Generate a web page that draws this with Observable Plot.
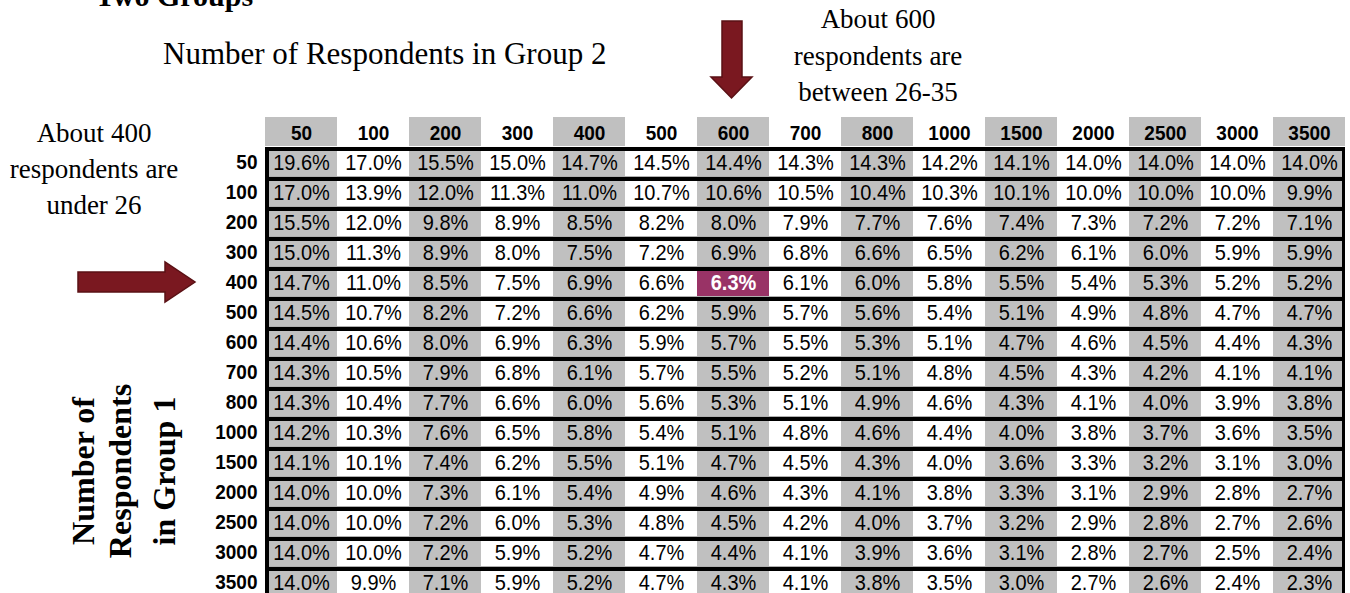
<!DOCTYPE html>
<html>
<head>
<meta charset="utf-8">
<script src="https://cdn.jsdelivr.net/npm/d3@7"></script>
<script src="https://cdn.jsdelivr.net/npm/@observablehq/plot@0.6"></script>
<style>
  html, body { margin: 0; padding: 0; background: #fff; overflow: hidden; }
  #wrap { position: relative; width: 1350px; height: 593px; }
  #wrap > svg { position: absolute; left: 0; top: 0; }
  .serif { font-family: "Liberation Serif", "Times New Roman", serif; fill: #000; }
</style>
</head>
<body>
<div id="wrap">
  <div id="chart"></div>
  <svg id="overlay" width="1350" height="593" viewBox="0 0 1350 593">
    <text class="serif" x="95" y="6" font-size="30" font-weight="bold">Two Groups</text>
    <text class="serif" x="163" y="64" font-size="31">Number of Respondents in Group 2</text>
    <g class="serif" font-size="27" text-anchor="middle">
      <text x="878" y="28">About 600</text>
      <text x="878" y="65">respondents are</text>
      <text x="878" y="101">between 26-35</text>
      <text x="94" y="142">About 400</text>
      <text x="94" y="178">respondents are</text>
      <text x="94" y="214">under 26</text>
    </g>
    <g class="serif" font-size="32" font-weight="bold" text-anchor="middle">
      <text transform="translate(94,471) rotate(-90)">Number of</text>
      <text transform="translate(131,471) rotate(-90)">Respondents</text>
      <text transform="translate(175,471) rotate(-90)">in Group 1</text>
    </g>
    <polygon points="722,21 742,21 742,77 752,77 731.5,98 711,77 722,77" fill="#7a1820" stroke="#5a1014" stroke-width="1.5"/>
    <polygon points="78,272 165,272 165,262 195,282 165,302 165,292 78,292" fill="#7a1820" stroke="#5a1014" stroke-width="1.5"/>
  </svg>
</div>
<script>
const groupSizes1 = [50, 100, 200, 300, 400, 500, 600, 700, 800, 1000, 1500, 2000, 2500, 3000, 3500];
const groupSizes2 = [50, 100, 200, 300, 400, 500, 600, 700, 800, 1000, 1500, 2000, 2500, 3000, 3500];
const marginValues = [
  [19.6, 17.0, 15.5, 15.0, 14.7, 14.5, 14.4, 14.3, 14.3, 14.2, 14.1, 14.0, 14.0, 14.0, 14.0],
  [17.0, 13.9, 12.0, 11.3, 11.0, 10.7, 10.6, 10.5, 10.4, 10.3, 10.1, 10.0, 10.0, 10.0, 9.9],
  [15.5, 12.0, 9.8, 8.9, 8.5, 8.2, 8.0, 7.9, 7.7, 7.6, 7.4, 7.3, 7.2, 7.2, 7.1],
  [15.0, 11.3, 8.9, 8.0, 7.5, 7.2, 6.9, 6.8, 6.6, 6.5, 6.2, 6.1, 6.0, 5.9, 5.9],
  [14.7, 11.0, 8.5, 7.5, 6.9, 6.6, 6.3, 6.1, 6.0, 5.8, 5.5, 5.4, 5.3, 5.2, 5.2],
  [14.5, 10.7, 8.2, 7.2, 6.6, 6.2, 5.9, 5.7, 5.6, 5.4, 5.1, 4.9, 4.8, 4.7, 4.7],
  [14.4, 10.6, 8.0, 6.9, 6.3, 5.9, 5.7, 5.5, 5.3, 5.1, 4.7, 4.6, 4.5, 4.4, 4.3],
  [14.3, 10.5, 7.9, 6.8, 6.1, 5.7, 5.5, 5.2, 5.1, 4.8, 4.5, 4.3, 4.2, 4.1, 4.1],
  [14.3, 10.4, 7.7, 6.6, 6.0, 5.6, 5.3, 5.1, 4.9, 4.6, 4.3, 4.1, 4.0, 3.9, 3.8],
  [14.2, 10.3, 7.6, 6.5, 5.8, 5.4, 5.1, 4.8, 4.6, 4.4, 4.0, 3.8, 3.7, 3.6, 3.5],
  [14.1, 10.1, 7.4, 6.2, 5.5, 5.1, 4.7, 4.5, 4.3, 4.0, 3.6, 3.3, 3.2, 3.1, 3.0],
  [14.0, 10.0, 7.3, 6.1, 5.4, 4.9, 4.6, 4.3, 4.1, 3.8, 3.3, 3.1, 2.9, 2.8, 2.7],
  [14.0, 10.0, 7.2, 6.0, 5.3, 4.8, 4.5, 4.2, 4.0, 3.7, 3.2, 2.9, 2.8, 2.7, 2.6],
  [14.0, 10.0, 7.2, 5.9, 5.2, 4.7, 4.4, 4.1, 3.9, 3.6, 3.1, 2.8, 2.7, 2.5, 2.4],
  [14.0, 9.9, 7.1, 5.9, 5.2, 4.7, 4.3, 4.1, 3.8, 3.5, 3.0, 2.7, 2.6, 2.4, 2.3]
];
const highlightRow = 400;
const highlightCol = 600;

const HDR = "hdr";
const xDomain = groupSizes2.map(String);
const yDomain = [HDR, ...groupSizes1.map(String)];

const cells = [];
groupSizes1.forEach((r, i) => groupSizes2.forEach((c, j) => {
  cells.push({row: String(r), col: String(c), ci: j, v: marginValues[i][j],
              hi: r === highlightRow && c === highlightCol});
}));
const fillOf = d => d.hi ? "#993366" : (d.ci % 2 === 0 ? "#c0c0c0" : "#ffffff");
const nCols = groupSizes2.length;
const first = cells.filter(d => d.ci === 0);
const last = cells.filter(d => d.ci === nCols - 1);
const mid = cells.filter(d => d.ci > 0 && d.ci < nCols - 1);
const headers = groupSizes2.map((c, j) => ({col: String(c), ci: j}));
const fmt = v => v.toFixed(1) + "%";

const fillMarks = (subset, extra) => [
  Plot.cell(subset, {x: "col", y: "row", fill: "#b0b0b0", insetTop: 4, ...extra}),
  Plot.cell(subset, {x: "col", y: "row", fill: fillOf, insetTop: 4, insetBottom: 1, ...extra})
];

const plot = Plot.plot({
  width: 1350,
  height: 593,
  marginLeft: 259,
  marginRight: 0,
  marginTop: 116,
  marginBottom: -4,
  style: {fontFamily: "'Liberation Sans', Arial, sans-serif", background: "transparent", overflow: "visible"},
  x: {domain: xDomain, padding: 0, axis: null},
  y: {domain: yDomain, padding: 0, axis: null},
  marks: [
    // header row
    Plot.cell(headers.filter(d => d.ci % 2 === 0), {x: "col", y: () => HDR, fill: "#c0c0c0", insetBottom: 1}),
    Plot.text(headers, {x: "col", y: () => HDR, text: "col", fontWeight: "bold", fontSize: 19, fill: "#000", dy: 1}),
    // black grid backing
    Plot.cell(cells, {x: "col", y: "row", fill: "#000"}),
    // cell fills
    ...fillMarks(first, {insetLeft: 4}),
    ...fillMarks(mid, {}),
    ...fillMarks(last, {insetRight: 3}),
    // values
    Plot.text(cells.filter(d => !d.hi), {x: "col", y: "row", text: d => fmt(d.v), fontSize: 20, fill: "#000", dy: 0.5}),
    Plot.text(cells.filter(d => d.hi), {x: "col", y: "row", text: d => fmt(d.v), fontSize: 20, fontWeight: "bold", fill: "#fff", dy: 0.5}),
    // row labels
    Plot.axisY({tickSize: 0, tickPadding: 2, fontSize: 19, fontWeight: "bold", fill: "#000", label: null,
                tickFormat: d => d === HDR ? "" : d})
  ]
});
// stretch the sans-serif table text slightly taller, like the reference rendering
plot.querySelectorAll('g[aria-label="text"] text, g[aria-label="y-axis tick label"] text').forEach(t => {
  const tr = t.getAttribute("transform");
  if (tr) t.setAttribute("transform", tr + " scale(1,1.1)");
});
document.getElementById("chart").appendChild(plot);
</script>
</body>
</html>
